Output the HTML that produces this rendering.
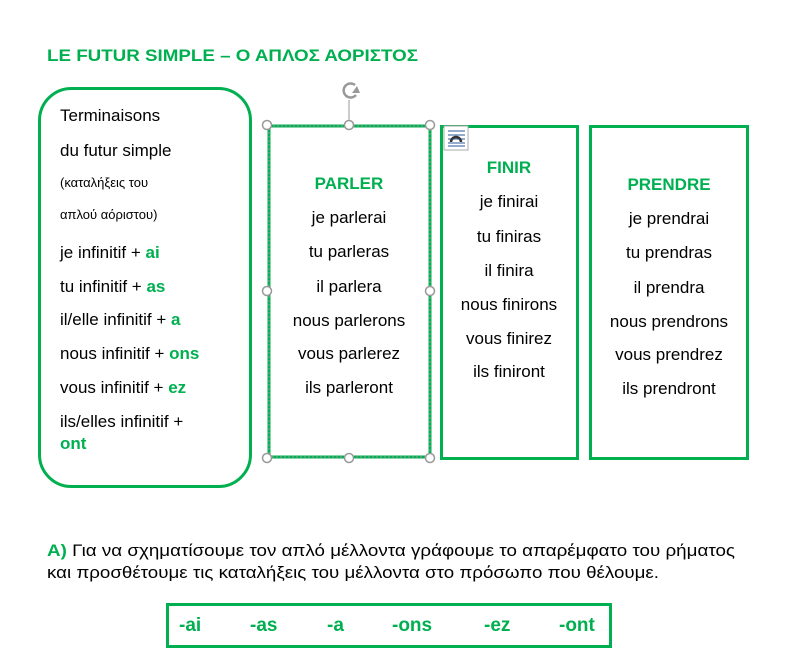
<!DOCTYPE html>
<html><head><meta charset="utf-8"><style>
html,body{margin:0;padding:0;background:#fff;}
svg{display:block;font-family:"Liberation Sans",Arial,sans-serif;}
.t{font-size:17px;fill:#000;}
.g{fill:#00B050;font-weight:bold;}
.s{font-size:13px;fill:#000;}
</style></head><body>
<svg width="789" height="657" viewBox="0 0 789 657" xmlns="http://www.w3.org/2000/svg" xml:space="preserve">
<text x="47" y="61" class="g" font-size="17" textLength="371" lengthAdjust="spacingAndGlyphs">LE FUTUR SIMPLE – Ο ΑΠΛΟΣ ΑΟΡΙΣΤΟΣ</text>

<rect x="39.5" y="88.5" width="211" height="398" rx="32" fill="none" stroke="#00B050" stroke-width="3"/>
<rect x="269" y="126" width="161" height="331" fill="none" stroke="#00B050" stroke-width="3"/>
<rect x="269" y="126" width="161" height="331" fill="none" stroke="#999" stroke-width="1" stroke-dasharray="2,2"/>
<rect x="441.5" y="126.5" width="136" height="332" fill="none" stroke="#00B050" stroke-width="3"/>
<rect x="590.5" y="126.5" width="157" height="332" fill="none" stroke="#00B050" stroke-width="3"/>
<rect x="167.5" y="604.5" width="443" height="42" fill="none" stroke="#00B050" stroke-width="3"/>

<line x1="349" y1="100" x2="349" y2="125" stroke="#999" stroke-width="1"/>
<g fill="#fff" stroke="#999" stroke-width="1.5">
<circle cx="267" cy="125" r="4.5"/><circle cx="349" cy="125" r="4.5"/><circle cx="430" cy="125" r="4.5"/>
<circle cx="267" cy="291" r="4.5"/><circle cx="430" cy="291" r="4.5"/>
<circle cx="267" cy="458" r="4.5"/><circle cx="349" cy="458" r="4.5"/><circle cx="430" cy="458" r="4.5"/>
</g>
<path d="M355 85 A7 7 0 1 0 356 95" fill="none" stroke="#999" stroke-width="2.5"/>
<path d="M352 93 L360 93 L357 86 Z" fill="#999"/>
<rect x="444" y="126" width="24" height="24" fill="#fff" stroke="#aaa"/>
<g stroke="#2b5797" stroke-width="1"><line x1="448" y1="131" x2="465" y2="131"/><line x1="448" y1="135" x2="465" y2="135"/><line x1="448" y1="139" x2="465" y2="139"/><line x1="448" y1="143" x2="465" y2="143"/><line x1="448" y1="146" x2="465" y2="146"/></g>
<path d="M451 142 A5 5 0 0 1 461 142" fill="none" stroke="#333" stroke-width="2.5"/>

<g class="t">
<text x="60" y="121">Terminaisons</text>
<text x="60" y="156">du futur simple</text>
<text x="60" y="187" class="s">(καταλήξεις του</text>
<text x="60" y="219" class="s">απλού αόριστου)</text>
<text x="60" y="258">je  infinitif + <tspan class="g">ai</tspan></text>
<text x="60" y="292">tu  infinitif + <tspan class="g">as</tspan></text>
<text x="60" y="325">il/elle  infinitif + <tspan class="g">a</tspan></text>
<text x="60" y="359">nous  infinitif + <tspan class="g">ons</tspan></text>
<text x="60" y="393">vous  infinitif + <tspan class="g">ez</tspan></text>
<text x="60" y="427">ils/elles infinitif +</text>
<text x="60" y="449" class="g">ont</text>
</g>

<g class="t" text-anchor="middle">
<text x="349" y="189" class="g">PARLER</text>
<text x="349" y="223">je parlerai</text>
<text x="349" y="257">tu parleras</text>
<text x="349" y="292">il parlera</text>
<text x="349" y="326">nous parlerons</text>
<text x="349" y="359">vous parlerez</text>
<text x="349" y="393">ils parleront</text>

<text x="509" y="173" class="g">FINIR</text>
<text x="509" y="207">je finirai</text>
<text x="509" y="242">tu finiras</text>
<text x="509" y="276">il finira</text>
<text x="509" y="310">nous finirons</text>
<text x="509" y="344">vous finirez</text>
<text x="509" y="377">ils finiront</text>

<text x="669" y="190" class="g">PRENDRE</text>
<text x="669" y="224">je prendrai</text>
<text x="669" y="258">tu prendras</text>
<text x="669" y="293">il prendra</text>
<text x="669" y="327">nous prendrons</text>
<text x="669" y="360">vous prendrez</text>
<text x="669" y="394">ils prendront</text>
</g>

<text x="47" y="556" class="t" textLength="688" lengthAdjust="spacingAndGlyphs"><tspan class="g">A)</tspan> Για να σχηματίσουμε τον απλό μέλλοντα γράφουμε το απαρέμφατο του ρήματος</text>
<text x="47" y="578" class="t" textLength="612" lengthAdjust="spacingAndGlyphs">και προσθέτουμε τις καταλήξεις του μέλλοντα στο πρόσωπο που θέλουμε.</text>

<g class="g" font-size="19">
<text x="179" y="631">-ai</text>
<text x="250" y="631">-as</text>
<text x="327" y="631">-a</text>
<text x="392" y="631">-ons</text>
<text x="484" y="631">-ez</text>
<text x="559" y="631">-ont</text>
</g>
</svg>
</body></html>
